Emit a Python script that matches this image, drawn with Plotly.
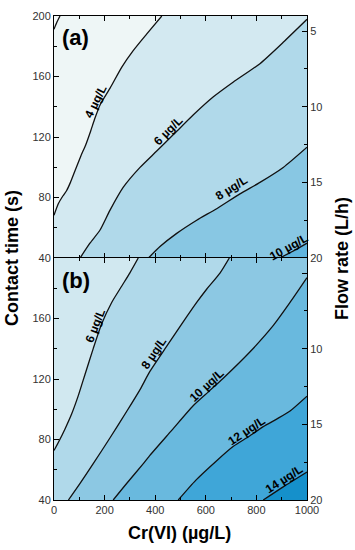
import math
import plotly.graph_objects as go

# ---------------- data ----------------
CR_RANGE = [0, 1000]          # Cr(VI) (µg/L)
TIME_RANGE = [40, 200]        # contact time (s)
FLOW_RANGE = [20, 4]          # flow rate (L/h), bottom -> top

x_tickvals = [0, 200, 400, 600, 800, 1000]
time_tickvals = [40, 80, 120, 160, 200]
flow_tickvals = [5, 10, 15, 20]

# panel (a) contour lines
a_c2_x = [0, 10.5, 23.7]
a_c2_y = [191.3, 195.6, 200]
a_c4_x = [0, 17, 35, 50, 65, 83, 105, 126, 145, 162, 182, 221, 268, 313, 366, 426]
a_c4_y = [68.3, 75.9, 81, 84.6, 90, 97.7, 107, 115.1, 124, 132.5, 141.2, 152.1, 166.2, 177.1, 188.0, 200]
a_c6_x = [103, 142, 182, 221, 274, 340, 406, 472, 551, 630, 709, 814, 906, 1000]
a_c6_y = [40, 49.8, 58.5, 71.5, 86.8, 99.9, 110.7, 121.6, 134.7, 146.6, 156.4, 168.5, 182.6, 197.8]
a_c8_x = [373, 419, 485, 564, 643, 735, 814, 906, 1000]
a_c8_y = [40, 47.6, 56.3, 65, 72.6, 82.4, 90, 99.9, 113.3]
a_c10_x = [893, 950, 1000]
a_c10_y = [40, 45, 49.8]

# panel (b) contour lines
b_c6_x = [0, 17, 43.5, 70, 96, 122.5, 155, 188.5, 228, 268, 300, 333]
b_c6_y = [72.7, 78, 87, 97, 109, 123, 140.1, 156.5, 170.6, 181.5, 190.2, 200]
b_c8_x = [57, 103, 155, 221, 287, 340, 379, 445, 524, 564, 604, 656, 693]
b_c8_y = [40, 51, 64, 81, 98.5, 113, 125, 141.5, 161, 170.6, 179.5, 190, 200]
b_c10_x = [234, 287, 353, 379, 465, 551, 610, 669, 775, 867, 933, 1000]
b_c10_y = [40, 50.9, 64, 69.5, 86, 102.5, 111.5, 120.5, 138, 155.4, 170.6, 187]
b_c12_x = [491, 560, 643, 709, 770, 827, 880, 933, 1000]
b_c12_y = [40, 53, 66, 75.5, 82, 88.5, 93.5, 98.8, 108.6]
b_c14_x = [827, 906, 1000]
b_c14_y = [40, 48.7, 58.5]

# contour labels: text and label centre
a_labels = [("4 µg/L", 172.7, 143.4), ("6 µg/L", 450.6, 123.8),
            ("8 µg/L", 700.8, 86.2), ("10 µg/L", 932.8, 46.0)]
b_labels = [("6 µg/L", 164.8, 154.8), ("8 µg/L", 394.5, 137.4),
            ("10 µg/L", 610, 115.1), ("12 µg/L", 768, 83.6),
            ("14 µg/L", 909.8, 54.2)]

# band colours (lowest to highest)
a_colors = ["#f4f9f9", "#eef6f6", "#d3e9f1", "#b0d9ea", "#88c7e3", "#60b4de"]
b_colors = ["#d1e8f0", "#b0d9ea", "#8cc8e3", "#69b9de", "#3fa6d8", "#1590cb"]

# ---------------- geometry helpers ----------------
SX = 253 / 1000.0     # px per Cr unit
SY = 245 / 160.0      # px per time unit
X0, X1 = CR_RANGE
Y0, Y1 = TIME_RANGE
LABEL_SIZE = 12
MIN_OFFSET = 5.5      # px, label centre at least this far above its line


def perim_s(x, y):
    if abs(y - Y1) < 1e-6:
        return (x - X0) / (X1 - X0)
    if abs(x - X1) < 1e-6:
        return 1 + (Y1 - y) / (Y1 - Y0)
    if abs(y - Y0) < 1e-6:
        return 2 + (X1 - x) / (X1 - X0)
    return 3 + (y - Y0) / (Y1 - Y0)


CORNERS = [(X0, Y1), (X1, Y1), (X1, Y0), (X0, Y0)]


def band_polygon(xs, ys):
    s_start = perim_s(xs[0], ys[0])
    s_end = perim_s(xs[-1], ys[-1])
    if s_start <= s_end:
        s_start += 4
    px, py = list(xs), list(ys)
    for k in range(9):
        if s_end < k < s_start:
            cx, cy = CORNERS[k % 4]
            px.append(cx)
            py.append(cy)
    px.append(xs[0])
    py.append(ys[0])
    return px, py


def label_place(xs, ys, lx, ly, half):
    P = [(x * SX, y * SY) for x, y in zip(xs, ys)]
    L = (lx * SX, ly * SY)
    cum = [0.0]
    for i in range(1, len(P)):
        cum.append(cum[-1] + math.dist(P[i - 1], P[i]))
    best = None
    for i in range(len(P) - 1):
        ax, ay = P[i]
        bx, by = P[i + 1]
        dx, dy = bx - ax, by - ay
        l2 = dx * dx + dy * dy
        t = max(0.0, min(1.0, ((L[0] - ax) * dx + (L[1] - ay) * dy) / l2))
        qx, qy = ax + t * dx, ay + t * dy
        d = (qx - L[0]) ** 2 + (qy - L[1]) ** 2
        if best is None or d < best[0]:
            best = (d, cum[i] + t * math.sqrt(l2))
    s0 = best[1]

    def at(s):
        s = max(0.0, min(cum[-1], s))
        for i in range(len(P) - 1):
            if cum[i + 1] >= s:
                seg = cum[i + 1] - cum[i]
                t = 0 if seg == 0 else (s - cum[i]) / seg
                return (P[i][0] + t * (P[i + 1][0] - P[i][0]),
                        P[i][1] + t * (P[i + 1][1] - P[i][1]))
        return P[-1]

    p1, p2, pc = at(s0 - half), at(s0 + half), at(s0)
    dx, dy = p2[0] - p1[0], p2[1] - p1[1]
    n = math.hypot(dx, dy)
    nx, ny = -dy / n, dx / n          # left normal (upwards for rising lines)
    dist = (L[0] - pc[0]) * nx + (L[1] - pc[1]) * ny
    off = max(dist, MIN_OFFSET)
    cx = pc[0] + nx * off
    cy = pc[1] + ny * off
    ang = -math.degrees(math.atan2(dy, dx))
    return cx / SX, cy / SY, ang


def text_width(t, size):
    w = {"1": 556, "2": 556, "4": 556, "6": 556, "8": 556, "0": 556, " ": 278,
         "µ": 611, "g": 611, "/": 278, "L": 611}
    return sum(w.get(c, 556) for c in t) / 1000 * size


# ---------------- figure ----------------
fig = go.Figure()
FONT = "Liberation Sans, Arial, sans-serif"
annotations = []

panels = [
    ("x", "y", "y3", [(a_c2_x, a_c2_y), (a_c4_x, a_c4_y), (a_c6_x, a_c6_y),
                      (a_c8_x, a_c8_y), (a_c10_x, a_c10_y)],
     [None, 0, 1, 2, 3], a_labels, a_colors),
    ("x2", "y2", "y4", [(b_c6_x, b_c6_y), (b_c8_x, b_c8_y), (b_c10_x, b_c10_y),
                        (b_c12_x, b_c12_y), (b_c14_x, b_c14_y)],
     [0, 1, 2, 3, 4], b_labels, b_colors),
]

for xa, ya, ya_flow, lines, label_idx, labels, colors in panels:
    fig.add_trace(go.Scatter(x=[X0, X1, X1, X0, X0], y=[Y0, Y0, Y1, Y1, Y0],
                             mode="lines", fill="toself", fillcolor=colors[0],
                             line=dict(width=0), xaxis=xa, yaxis=ya,
                             hoverinfo="skip", showlegend=False))
    for i, (lx_, ly_) in enumerate(lines):
        px, py = band_polygon(lx_, ly_)
        fig.add_trace(go.Scatter(x=px, y=py, mode="lines", fill="toself",
                                 fillcolor=colors[i + 1], line=dict(width=0),
                                 xaxis=xa, yaxis=ya, hoverinfo="skip",
                                 showlegend=False))
    for i, (lx_, ly_) in enumerate(lines):
        fig.add_trace(go.Scatter(x=lx_, y=ly_, mode="lines",
                                 line=dict(color="#111111", width=1.3,
                                           shape="spline", smoothing=0.6),
                                 xaxis=xa, yaxis=ya, hoverinfo="skip",
                                 showlegend=False))
        li = label_idx[i]
        if li is not None:
            text, tx, ty = labels[li]
            half = text_width(text, LABEL_SIZE) / 2
            cx, cy, ang = label_place(lx_, ly_, tx, ty, half)
            annotations.append(dict(x=cx, y=cy, xref=xa, yref=ya, text="<b>%s</b>" % text,
                                    showarrow=False, textangle=ang,
                                    font=dict(family=FONT, size=LABEL_SIZE, color="black"),
                                    xanchor="center", yanchor="middle"))
    # invisible trace so the right-hand flow-rate axis is drawn
    fig.add_trace(go.Scatter(x=CR_RANGE, y=FLOW_RANGE, mode="markers",
                             marker=dict(opacity=0), xaxis=xa, yaxis=ya_flow,
                             hoverinfo="skip", showlegend=False))

tickfont = dict(family=FONT, size=11, color="#333333")
common_x = dict(range=CR_RANGE, showgrid=False, zeroline=False, showline=True,
                linecolor="black", linewidth=1, ticks="inside", ticklen=5,
                tickcolor="black", tickvals=x_tickvals, mirror="ticks",
                minor=dict(ticks="inside", ticklen=3, tickcolor="black",
                           tickvals=[100, 300, 500, 700, 900]),
                tickfont=tickfont)
common_y = dict(range=TIME_RANGE, showgrid=False, zeroline=False, showline=True,
                linecolor="black", linewidth=1, ticks="inside", ticklen=5,
                tickcolor="black", tickvals=time_tickvals,
                minor=dict(ticks="inside", ticklen=3, tickcolor="black",
                           tickvals=[60, 100, 140, 180]),
                tickfont=tickfont)
common_flow = dict(range=FLOW_RANGE, autorange=False, side="right", showgrid=False,
                   zeroline=False, showline=True, linecolor="black", linewidth=1,
                   ticks="inside", ticklen=5, tickcolor="black", tickvals=flow_tickvals,
                   minor=dict(ticks="inside", ticklen=3, tickcolor="black",
                              tickvals=[7.5, 12.5, 17.5]),
                   tickfont=tickfont)

fig.update_layout(
    width=355, height=550, autosize=False,
    margin=dict(l=54, r=48, t=10, b=50),
    paper_bgcolor="white", plot_bgcolor="white",
    hovermode=False,
    xaxis=dict(common_x, anchor="y", showticklabels=False),
    xaxis2=dict(common_x, anchor="y2", matches="x"),
    yaxis=dict(common_y, domain=[0.5, 1], anchor="x"),
    yaxis2=dict(common_y, domain=[0, 0.5], anchor="x2",
                ticktext=["40", "80", "120", "160", ""]),
    yaxis3=dict(common_flow, overlaying="y", anchor="x"),
    yaxis4=dict(common_flow, overlaying="y2", anchor="x2",
                ticktext=["", "10", "15", "20"]),
)

title_font = dict(family=FONT, size=18, color="black")
annotations += [
    dict(x=-0.166, y=0.5, xref="paper", yref="paper", text="<b>Contact time (s)</b>",
         textangle=-90, showarrow=False, font=title_font, xanchor="center", yanchor="middle"),
    dict(x=1.138, y=0.5, xref="paper", yref="paper", text="<b>Flow rate (L/h)</b>",
         textangle=-90, showarrow=False, font=title_font, xanchor="center", yanchor="middle"),
    dict(x=0.498, y=-0.0673, xref="paper", yref="paper", text="<b>Cr(VI) (µg/L)</b>",
         showarrow=False, font=title_font, xanchor="center", yanchor="middle"),
    dict(x=0.085, y=0.956, xref="paper", yref="paper", text="<b>(a)</b>",
         showarrow=False, font=dict(family=FONT, size=22, color="black"),
         xanchor="center", yanchor="middle"),
    dict(x=0.085, y=0.454, xref="paper", yref="paper", text="<b>(b)</b>",
         showarrow=False, font=dict(family=FONT, size=22, color="black"),
         xanchor="center", yanchor="middle"),
]
fig.update_layout(annotations=annotations)

fig.write_html("out.html", config={"displayModeBar": False},
               post_script="document.body.style.margin='0px';")
